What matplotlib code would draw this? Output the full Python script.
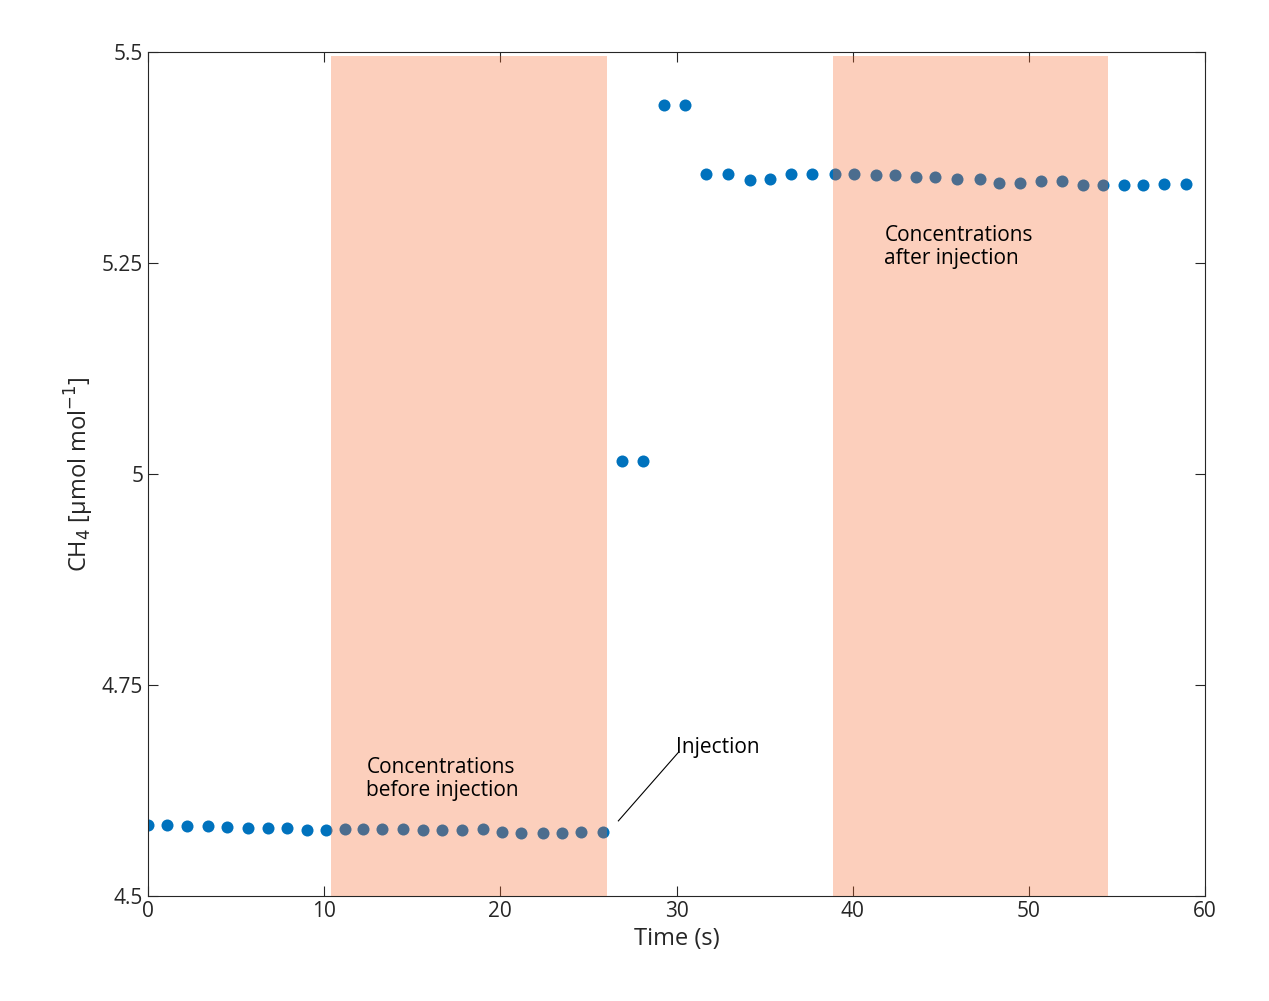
import matplotlib
matplotlib.use("Agg")
import matplotlib.pyplot as plt
from matplotlib.ticker import FixedLocator

plt.rcParams['font.family'] = ['Open Sans', 'DejaVu Sans']

time_s = [0.0, 1.1, 2.2, 3.4, 4.5, 5.7, 6.8, 7.9, 9.0, 10.1, 11.2, 12.2, 13.3, 14.5, 15.6,
          16.7, 17.8, 19.0, 20.1, 21.2, 22.4, 23.5, 24.6, 25.8, 26.9, 28.1, 29.3, 30.5,
          31.7, 32.9, 34.2, 35.3, 36.5, 37.7, 39.0, 40.1, 41.3, 42.4, 43.6, 44.7, 45.9,
          47.2, 48.3, 49.5, 50.7, 51.9, 53.1, 54.2, 55.4, 56.5, 57.7, 58.9]
ch4 = [4.584, 4.584, 4.583, 4.583, 4.582, 4.581, 4.581, 4.581, 4.578, 4.578, 4.579, 4.579,
       4.579, 4.579, 4.578, 4.578, 4.578, 4.579, 4.576, 4.575, 4.575, 4.575, 4.576, 4.576,
       5.015, 5.015, 5.437, 5.437,
       5.355, 5.355, 5.348, 5.349, 5.356, 5.356, 5.355, 5.355, 5.354, 5.354, 5.352, 5.352,
       5.349, 5.349, 5.345, 5.345, 5.347, 5.347, 5.343, 5.343, 5.342, 5.342, 5.344, 5.344]
shade_before = (10.4, 26.05)
shade_after = (38.9, 54.5)

fig = plt.figure(figsize=(12.69, 10.01), dpi=100)
ax = fig.add_axes([148/1269, 1-896/1001, (1205-148)/1269, (896-52)/1001])
ax.scatter(time_s, ch4, s=75, color='#0072BD', zorder=2, linewidths=0)
for a, b in (shade_before, shade_after):
    ax.fill_between([a, b], 4.5, 5.495, color='#F86527', alpha=0.31, lw=0, zorder=3)

ax.set_xlim(0, 60)
ax.set_ylim(4.5, 5.5)
ax.set_xticks(range(0, 61, 10))
ax.set_yticks([4.5, 4.75, 5.0, 5.25, 5.5])
ax.set_yticklabels(['4.5', '4.75', '5', '5.25', '5.5'])
ax.tick_params(direction='in', top=True, right=True, labelsize=15, length=7, colors='#262626')
for sp in ax.spines.values():
    sp.set_color('#262626'); sp.set_linewidth(0.8)
ax.set_xlabel('Time (s)', fontsize=17, color='#262626')
ax.set_ylabel(r'CH$_4$ [µmol mol$^{-1}$]', fontsize=17, color='#262626')

ax.text(12.4, 4.665, 'Concentrations\nbefore injection', fontsize=15, va='top', linespacing=1.15, zorder=5)
ax.text(41.8, 5.295, 'Concentrations\nafter injection', fontsize=15, va='top', linespacing=1.15, zorder=5)
ax.text(30.0, 4.676, 'Injection', fontsize=15, va='center', zorder=5)
ax.plot([26.7, 30.1], [4.589, 4.67], color='black', lw=0.8, zorder=5)

fig.savefig('out.png', dpi=100)
